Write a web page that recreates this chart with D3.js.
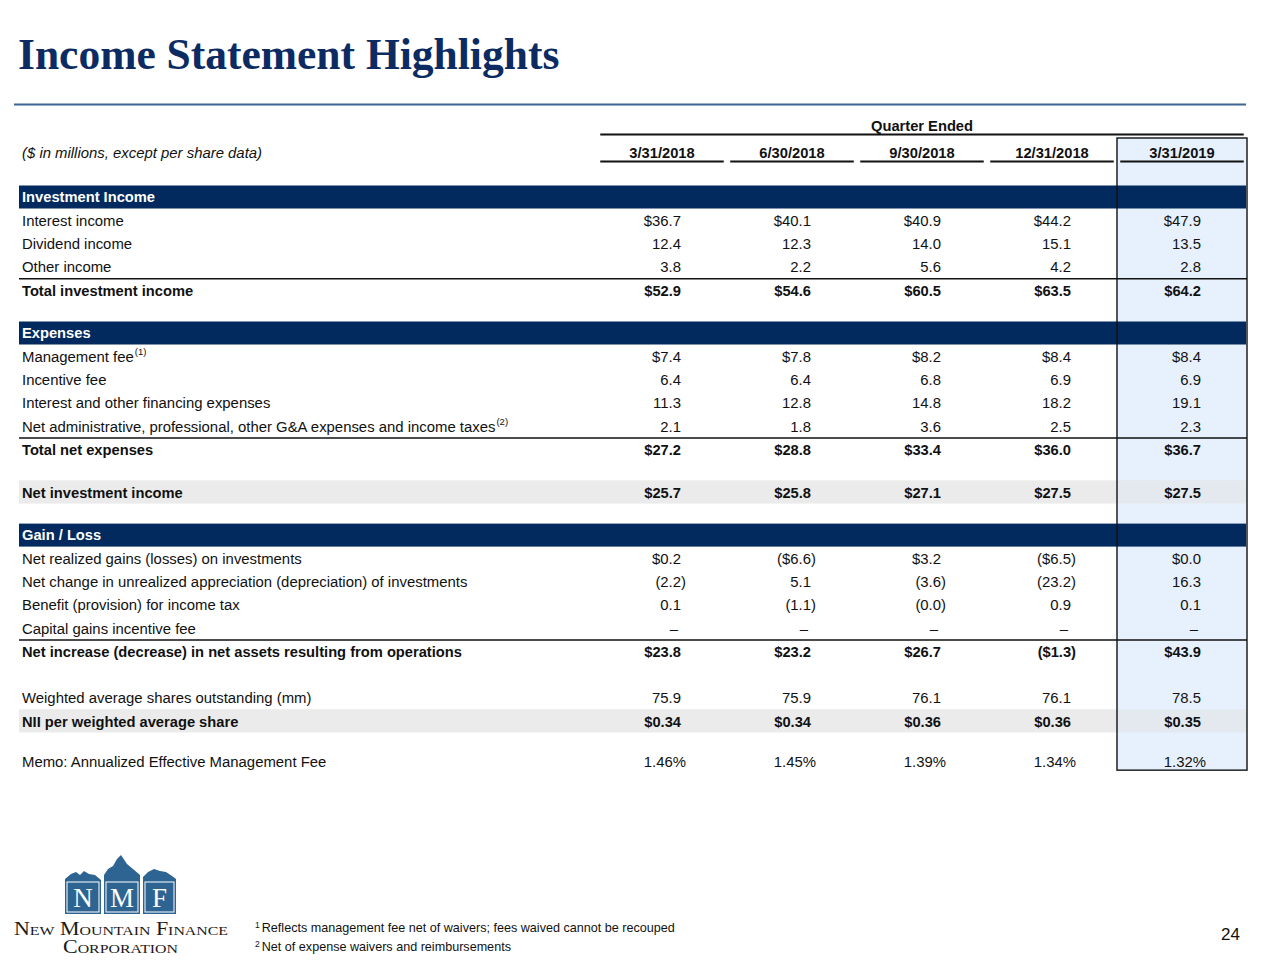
<!DOCTYPE html>
<html>
<head>
<meta charset="utf-8">
<script src="https://cdn.jsdelivr.net/npm/d3@7"></script>
<style>
  html, body { margin: 0; padding: 0; background: #fff; }
  svg { display: block; }
</style>
</head>
<body>
<svg id="chart" width="1280" height="960"></svg>
<script>
// ---------------- DATA ----------------
const quarters = ["3/31/2018", "6/30/2018", "9/30/2018", "12/31/2018", "3/31/2019"];

const interestIncome          = [36.7, 40.1, 40.9, 44.2, 47.9];
const dividendIncome          = [12.4, 12.3, 14.0, 15.1, 13.5];
const otherIncome             = [3.8, 2.2, 5.6, 4.2, 2.8];
const totalInvestmentIncome   = [52.9, 54.6, 60.5, 63.5, 64.2];

const managementFee           = [7.4, 7.8, 8.2, 8.4, 8.4];
const incentiveFee            = [6.4, 6.4, 6.8, 6.9, 6.9];
const interestFinancingExp    = [11.3, 12.8, 14.8, 18.2, 19.1];
const netAdminExpenses        = [2.1, 1.8, 3.6, 2.5, 2.3];
const totalNetExpenses        = [27.2, 28.8, 33.4, 36.0, 36.7];

const netInvestmentIncome     = [25.7, 25.8, 27.1, 27.5, 27.5];

const netRealizedGains        = [0.2, -6.6, 3.2, -6.5, 0.0];
const netChangeUnrealized     = [-2.2, 5.1, -3.6, -23.2, 16.3];
const incomeTaxBenefit        = [0.1, -1.1, -0.0, 0.9, 0.1];
const capitalGainsIncentive   = [null, null, null, null, null];
const netIncreaseNetAssets    = [23.8, 23.2, 26.7, -1.3, 43.9];

const weightedAvgShares       = [75.9, 75.9, 76.1, 76.1, 78.5];
const niiPerShare             = [0.34, 0.34, 0.36, 0.36, 0.35];
const effectiveMgmtFee        = [1.46, 1.45, 1.39, 1.34, 1.32];

const footnotes = [
  "Reflects management fee net of waivers; fees waived cannot be recouped",
  "Net of expense waivers and reimbursements"
];

// table built from the arrays above
const rows = [
  {kind: "section", label: "Investment Income"},
  {kind: "item",  label: "Interest income", values: interestIncome, dollar: true},
  {kind: "item",  label: "Dividend income", values: dividendIncome},
  {kind: "item",  label: "Other income", values: otherIncome},
  {kind: "total", label: "Total investment income", values: totalInvestmentIncome, dollar: true, rule: true},
  {kind: "gap"},
  {kind: "section", label: "Expenses"},
  {kind: "item",  label: "Management fee", sup: "(1)", values: managementFee, dollar: true},
  {kind: "item",  label: "Incentive fee", values: incentiveFee},
  {kind: "item",  label: "Interest and other financing expenses", values: interestFinancingExp},
  {kind: "item",  label: "Net administrative, professional, other G&A expenses and income taxes", sup: "(2)", values: netAdminExpenses},
  {kind: "total", label: "Total net expenses", values: totalNetExpenses, dollar: true, rule: true},
  {kind: "gap"},
  {kind: "shaded", label: "Net investment income", values: netInvestmentIncome, dollar: true},
  {kind: "gap"},
  {kind: "section", label: "Gain / Loss"},
  {kind: "item",  label: "Net realized gains (losses) on investments", values: netRealizedGains, dollar: true},
  {kind: "item",  label: "Net change in unrealized appreciation (depreciation) of investments", values: netChangeUnrealized},
  {kind: "item",  label: "Benefit (provision) for income tax", values: incomeTaxBenefit},
  {kind: "item",  label: "Capital gains incentive fee", values: capitalGainsIncentive},
  {kind: "total", label: "Net increase (decrease) in net assets resulting from operations", values: netIncreaseNetAssets, dollar: true, rule: true},
  {kind: "gapL"},
  {kind: "item",  label: "Weighted average shares outstanding (mm)", values: weightedAvgShares},
  {kind: "shaded", label: "NII per weighted average share", values: niiPerShare, dollar: true, dec: 2},
  {kind: "gapS"},
  {kind: "item",  label: "Memo: Annualized Effective Management Fee", values: effectiveMgmtFee, pct: true, dec: 2}
];

// ---------------- LAYOUT / STYLE ----------------
const NAVY = "#022a5e";
const TITLE = "#0b2b62";
const BLUEFILL = "#e7f1fd";
const GRAY = "#ebebeb";
const FONT = "'Liberation Sans', Arial, Helvetica, sans-serif";
const FS = 14.9, FSB = 14.7;
const rowH = 23.3;
const heights = {section: rowH, item: rowH, total: rowH, shaded: rowH, gap: 19.5, gapL: 23, gapS: 17.5};
const tableLeft = 19, tableRight = 1246, textX = 22;
const tableTop = 185.5;

const svg = d3.select("#chart");

// title
svg.append("text")
  .attr("x", 18).attr("y", 69)
  .attr("font-family", "'Liberation Serif', 'Times New Roman', serif")
  .attr("font-weight", "bold").attr("font-size", 43.5)
  .attr("fill", TITLE)
  .text("Income Statement Highlights");

svg.append("line")
  .attr("x1", 14).attr("x2", 1246).attr("y1", 104.5).attr("y2", 104.5)
  .attr("stroke", "#3f6597").attr("stroke-width", 1.8);

// column scale
const x = d3.scaleBand().domain(quarters).range([597, 1247]).paddingInner(0.05).paddingOuter(0.025);
const colC = q => x(q) + x.bandwidth() / 2;
const lastQ = quarters[quarters.length - 1];
const pad = x.step() * x.paddingInner() / 2;

// row y positions
let yAcc = tableTop;
rows.forEach(r => { r.top = yAcc; r.h = heights[r.kind]; r.cy = yAcc + r.h / 2; yAcc += r.h; });
const lastRow = rows[rows.length - 1];

// highlight column
const boxTop = 138, boxBottom = lastRow.cy + 8;
svg.append("rect")
  .attr("x", x(lastQ) - pad).attr("y", boxTop)
  .attr("width", x.bandwidth() + 2 * pad).attr("height", boxBottom - boxTop)
  .attr("fill", BLUEFILL);

// bands
const g = svg.append("g").attr("font-family", FONT).attr("font-size", FS).attr("fill", "#111");

rows.filter(r => r.kind === "shaded").forEach(r => {
  g.append("rect").attr("x", tableLeft).attr("y", r.top - 0.5)
    .attr("width", x(lastQ) - pad - tableLeft).attr("height", r.h).attr("fill", GRAY);
  g.append("rect").attr("x", x(lastQ) - pad).attr("y", r.top - 0.5)
    .attr("width", x.bandwidth() + 2 * pad).attr("height", r.h).attr("fill", "#e4e9f0");
});
rows.filter(r => r.kind === "section").forEach(r => {
  g.append("rect").attr("x", tableLeft).attr("y", r.top)
    .attr("width", tableRight - tableLeft).attr("height", r.h - 0.3).attr("fill", NAVY);
  g.append("text").attr("x", textX).attr("y", r.cy + 5.2).attr("font-size", FSB)
    .attr("fill", "#fff").attr("font-weight", "bold").text(r.label);
});

// box border
svg.append("rect")
  .attr("x", x(lastQ) - pad).attr("y", boxTop)
  .attr("width", x.bandwidth() + 2 * pad).attr("height", boxBottom - boxTop)
  .attr("fill", "none").attr("stroke", "#111").attr("stroke-width", 1.4);

// header
g.append("text").attr("x", (x(quarters[0]) + x(lastQ) + x.bandwidth()) / 2).attr("y", 130.5)
  .attr("text-anchor", "middle").attr("font-weight", "bold").attr("font-size", FSB).text("Quarter Ended");
svg.append("line").attr("x1", x(quarters[0])).attr("x2", x(lastQ) + x.bandwidth())
  .attr("y1", 134.5).attr("y2", 134.5).attr("stroke", "#111").attr("stroke-width", 2);

g.append("text").attr("x", textX).attr("y", 158).attr("font-style", "italic").text("($ in millions, except per share data)");
quarters.forEach(q => {
  g.append("text").attr("x", colC(q)).attr("y", 158).attr("text-anchor", "middle")
    .attr("font-weight", "bold").attr("font-size", FSB).text(q);
  svg.append("line").attr("x1", x(q)).attr("x2", x(q) + x.bandwidth())
    .attr("y1", 161.5).attr("y2", 161.5).attr("stroke", "#111").attr("stroke-width", 2);
});

// rules above totals
rows.filter(r => r.rule).forEach(r => {
  svg.append("line").attr("x1", tableLeft).attr("x2", tableRight + 1)
    .attr("y1", r.top).attr("y2", r.top).attr("stroke", "#111").attr("stroke-width", 1.5);
});

// formatter
function fmt(v, r) {
  if (v === null) return "–";
  const neg = v < 0 || Object.is(v, -0);
  const a = Math.abs(v).toFixed(r.dec || 1);
  if (r.pct) return a + "%";
  const s = (r.dollar ? "$" : "") + a;
  return neg ? "(" + s + ")" : s;
}

// rows text
rows.filter(r => r.values).forEach(r => {
  const bold = (r.kind === "total" || r.kind === "shaded");
  const t = g.append("text").attr("x", textX).attr("y", r.cy + 5.2)
    .attr("font-weight", bold ? "bold" : null).attr("font-size", bold ? FSB : FS).text(r.label);
  if (r.sup) t.append("tspan").attr("font-size", 9.5).attr("dy", -6.5).attr("dx", 1).text(r.sup);
  r.values.forEach((v, i) => {
    const q = quarters[i];
    const s = fmt(v, r);
    const neg = v !== null && (v < 0 || Object.is(v, -0));
    const right = colC(q) + 19 + ((neg || r.pct) ? 5 : 0) - (v === null ? 3 : 0);
    g.append("text").attr("x", right).attr("y", r.cy + 5.2)
      .attr("text-anchor", "end").attr("font-weight", bold ? "bold" : null)
      .attr("font-size", bold ? FSB : FS).text(s);
  });
});

// footnotes
const fn = svg.append("g").attr("font-family", FONT).attr("font-size", 12.6).attr("fill", "#111");
footnotes.forEach((f, i) => {
  const t = fn.append("text").attr("x", 255).attr("y", 932 + i * 18.5);
  t.append("tspan").attr("font-size", 8.5).attr("dy", -4).text(String(i + 1));
  t.append("tspan").attr("dy", 4).attr("dx", 2).text(f);
});

// page number
svg.append("text").attr("x", 1240).attr("y", 940).attr("text-anchor", "end")
  .attr("font-family", FONT).attr("font-size", 17).attr("fill", "#111").text("24");

// logo
const LOGO = "#2e6491";
const logo = svg.append("g");
const shapes = [
  [[65,879],[71,874],[76,872],[80,875],[84,871],[89,874],[95,875],[101,880],[101,914],[65,914]],
  [[104,875],[108,869],[113,866],[117,859],[121,855],[127,864],[133,869],[140,875],[140,914],[104,914]],
  [[143,877],[148,872],[154,869],[160,871],[166,872],[172,876],[176,879],[176,914],[143,914]]
];
shapes.forEach(p => logo.append("path").attr("d", d3.line()(p) + "Z").attr("fill", LOGO));
const letters = ["N", "M", "F"];
const boxes = [[67, 32], [106, 32], [145, 29]];
letters.forEach((l, i) => {
  logo.append("rect").attr("x", boxes[i][0]).attr("y", 882).attr("width", boxes[i][1]).attr("height", 30)
    .attr("fill", "none").attr("stroke", "#fff").attr("stroke-width", 1);
  logo.append("text").attr("x", boxes[i][0] + boxes[i][1] / 2).attr("y", 907)
    .attr("text-anchor", "middle").attr("font-family", "'Liberation Serif', 'Times New Roman', serif")
    .attr("font-size", 27).attr("fill", "#fff").text(l);
});
logo.append("text").attr("x", 14).attr("y", 935)
  .attr("font-family", "'Liberation Serif', 'Times New Roman', serif").attr("font-size", 18)
  .style("font-variant", "small-caps").attr("fill", "#1a1a1a")
  .attr("textLength", 214).attr("lengthAdjust", "spacingAndGlyphs").text("New Mountain Finance");
logo.append("text").attr("x", 63).attr("y", 953)
  .attr("font-family", "'Liberation Serif', 'Times New Roman', serif").attr("font-size", 18)
  .style("font-variant", "small-caps").attr("fill", "#1a1a1a")
  .attr("textLength", 115).attr("lengthAdjust", "spacingAndGlyphs").text("Corporation");
</script>
</body>
</html>
